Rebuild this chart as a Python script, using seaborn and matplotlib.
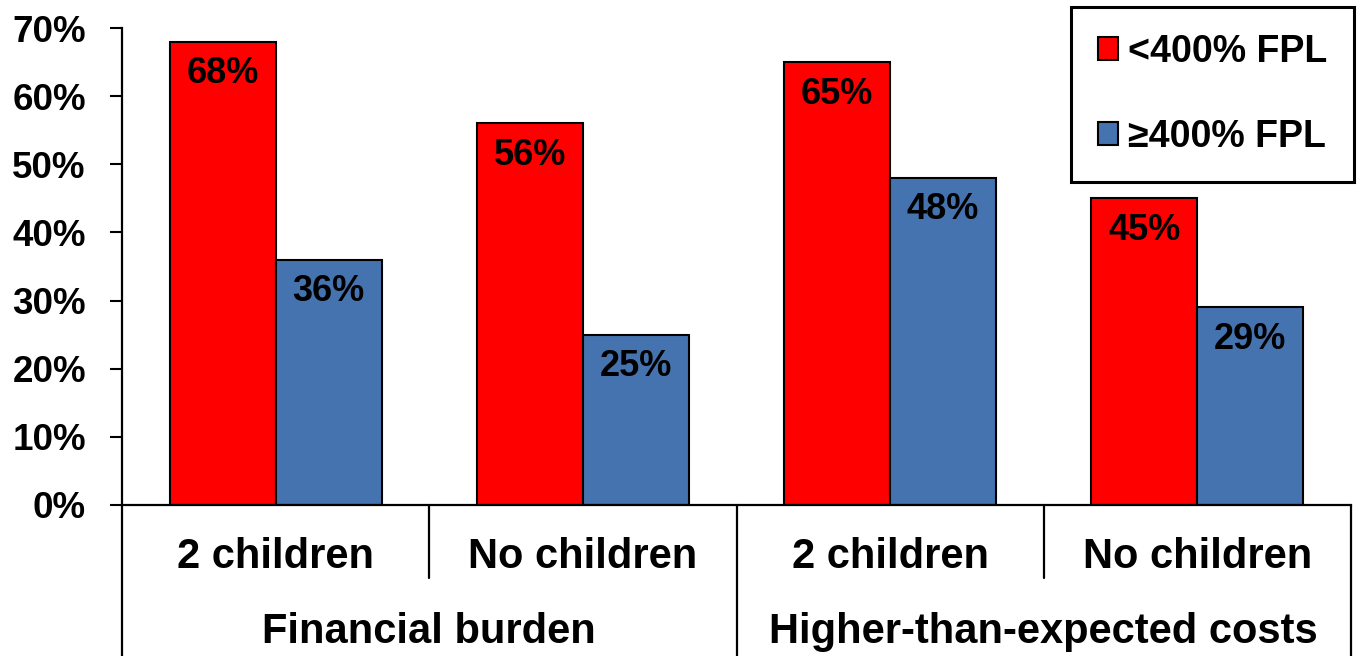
import matplotlib
matplotlib.use("Agg")
import matplotlib.pyplot as plt
from matplotlib.patches import Patch
import seaborn as sns
import pandas as pd

# ---- data ----
slots = ["FB_2", "FB_0", "HC_2", "HC_0"]
sub_labels = ["2 children", "No children", "2 children", "No children"]
group_labels = ["Financial burden", "Higher-than-expected costs"]
series_names = ["<400% FPL", "≥400% FPL"]
low_income = [68, 56, 65, 45]
high_income = [36, 25, 48, 29]
yticks = [0, 10, 20, 30, 40, 50, 60, 70]
ytick_labels = ["0%", "10%", "20%", "30%", "40%", "50%", "60%", "70%"]
colors = ["#FF0000", "#4573AF"]

df = pd.DataFrame({
    "slot": slots * 2,
    "value": low_income + high_income,
    "series": [series_names[0]] * 4 + [series_names[1]] * 4,
})

sns.set_theme(style="white")
plt.rcParams["font.family"] = ["Liberation Sans", "DejaVu Sans"]
plt.rcParams["font.weight"] = "bold"
plt.rcParams["text.color"] = "black"

fig = plt.figure(figsize=(13.6, 6.56), dpi=100)
ax = fig.add_axes([0.0897, 0.2302, 0.9037, 0.7271])

sns.barplot(data=df, x="slot", y="value", hue="series", order=slots,
            hue_order=series_names, palette=colors, width=0.69,
            edgecolor="black", linewidth=1.5, saturation=1, ax=ax, legend=False)

ax.set_xlim(-0.5, len(slots) - 0.5)
ax.set_ylim(0, 70)
ax.set_yticks(yticks)
ax.set_yticklabels(ytick_labels, fontsize=26.5, fontweight="bold")
ax.set_xticks([])
ax.set_xlabel("")
ax.set_ylabel("")
ax.tick_params(axis="y", direction="out", length=9, width=1.5, pad=17, left=True, colors="black")

for s in ["top", "right"]:
    ax.spines[s].set_visible(False)
for s in ["left", "bottom"]:
    ax.spines[s].set_color("black")
    ax.spines[s].set_linewidth(1.6)

# value labels inside bars
for cont, vals in zip(ax.containers, [low_income, high_income]):
    for p, v in zip(cont.patches, vals):
        ax.annotate(f"{v}%", (p.get_x() + p.get_width() / 2, p.get_height()),
                    xytext=(0, -23), textcoords="offset points",
                    ha="center", va="center", fontsize=26, fontweight="bold",
                    color="black")

# multi-level category axis
trans = ax.get_xaxis_transform()
bottom = -0.322
inner = -0.153
lw = 1.6
for x, y0 in [(-0.5, bottom), (0.5, inner), (1.5, bottom), (2.5, inner), (3.5, bottom)]:
    ax.plot([x, x], [0, y0], transform=trans, color="black", lw=lw, clip_on=False)

for i, lab in enumerate(sub_labels):
    ax.text(i, -0.108, lab, transform=trans, ha="center", va="center",
            fontsize=30, fontweight="bold", color="black")
for g, lab in enumerate(group_labels):
    ax.text(2 * g + 0.5, -0.266, lab, transform=trans, ha="center", va="center",
            fontsize=30, fontweight="bold", color="black")

# legend
handles = [Patch(facecolor=c, edgecolor="black", linewidth=1.5) for c in colors]
leg = fig.legend(handles, series_names, loc="upper right",
                 bbox_to_anchor=(1354 / 1360, 1 - 7 / 656),
                 bbox_transform=fig.transFigure, frameon=True, fancybox=False,
                 shadow=False, prop={"size": 27, "weight": "bold"},
                 labelcolor="black",
                 handlelength=0.55, handleheight=0.55, handletextpad=0.25,
                 labelspacing=1.3, borderpad=0.72, borderaxespad=0)
leg.get_frame().set_edgecolor("black")
leg.get_frame().set_linewidth(2.2)
leg.get_frame().set_alpha(1)

fig.savefig("out.png", dpi=100)
